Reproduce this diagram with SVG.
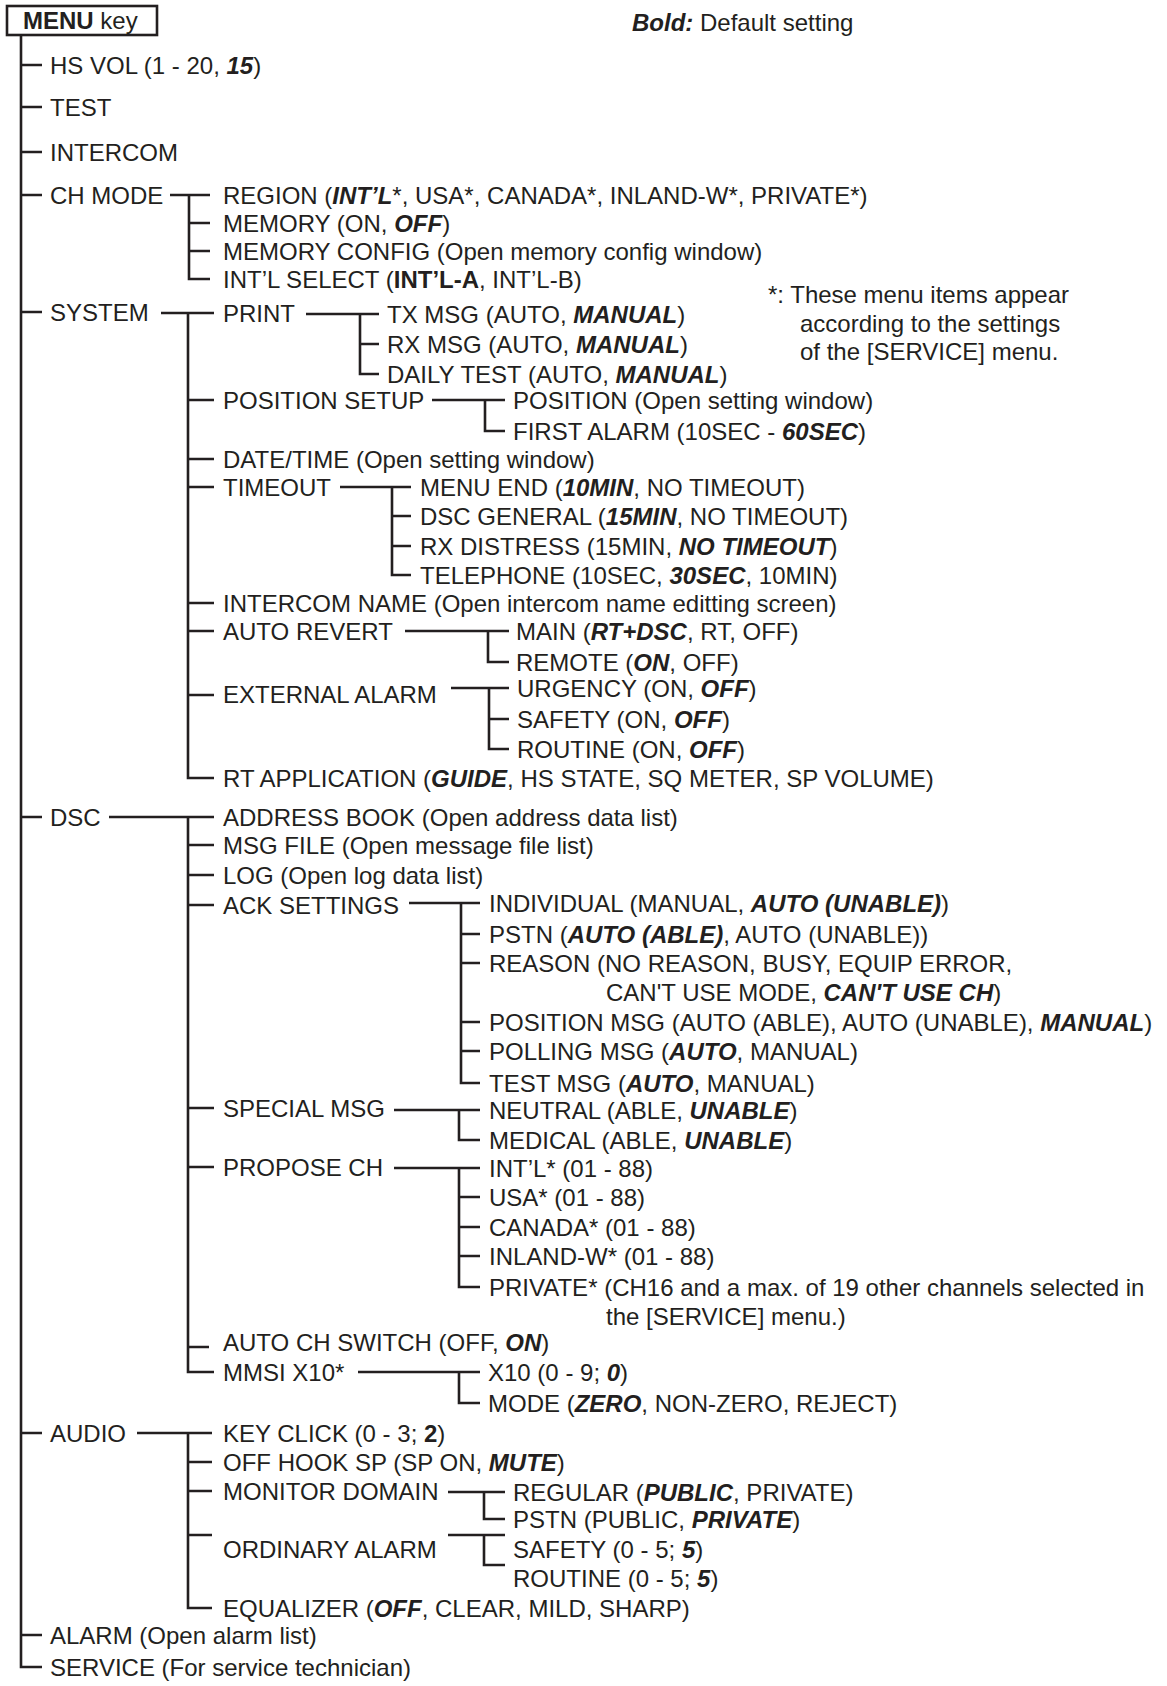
<svg xmlns="http://www.w3.org/2000/svg" width="1167" height="1686" viewBox="0 0 1167 1686">
<style>
.t{font-family:"Liberation Sans",Arial,Helvetica,sans-serif;font-size:24px;fill:#231f20}
.bi{font-weight:bold;font-style:italic}
.bo{font-weight:bold}
.ln{stroke:#231f20;stroke-width:2.6;fill:none}
</style>
<rect width="1167" height="1686" fill="#ffffff"/>
<g id="connectors" class="ln">
<path d="M21 35V1667H42M21 65H42M21 107H42M21 152H42M21 195H42M21 312H42M21 817H42M21 1433H42M21 1635H42"/>
<path d="M170 195H210M189 195V279H210M189 223H210M189 251H210"/>
<path d="M161 313H214M188 313V778H214M188 400H214M188 459H214M188 487H214M188 603H214M188 631H214M188 695H214"/>
<path d="M306 314H379M360 314V374H379M360 344H379"/>
<path d="M432 400H505M485 400V431H505"/>
<path d="M340 487H411M392 487V575H411M392 516H411M392 546H411"/>
<path d="M405 631H509M488 631V662H509"/>
<path d="M451 688H509M489 688V749H509M489 719H509"/>
<path d="M109 817H214M188 817V1372H214M188 845H214M188 875H214M188 905H214M188 1108H214M188 1167H214M188 1347H209"/>
<path d="M409 903H480M461 903V1083H480M461 934H480M461 963H480M461 1022H480M461 1051H480"/>
<path d="M394 1110H480M459 1110V1140H480"/>
<path d="M394 1168H480M459 1168V1287H480M459 1197H480M459 1227H480M459 1256H480"/>
<path d="M358 1372H480M459 1372V1403H480"/>
<path d="M137 1433H212M188 1433V1608H212M188 1462H212M188 1491H212M188 1535H212"/>
<path d="M448 1492H505M484 1492V1519H505"/>
<path d="M448 1535H505M484 1535V1565H505"/>
</g>
<g id="menu-key"><rect x="7" y="6" width="150" height="29" fill="none" stroke="#231f20" stroke-width="2.6"/><text class="t" x="23" y="29"><tspan class="bo">MENU</tspan> key</text></g>
<g id="legend"><text class="t" x="632" y="31"><tspan class="bi">Bold:</tspan> Default setting</text></g>
<g id="note"><text class="t" x="768" y="303">*: These menu items appear</text><text class="t" x="800" y="332">according to the settings</text><text class="t" x="800" y="360">of the [SERVICE] menu.</text></g>

<g id="hs-vol"><text class="t" x="50" y="74">HS VOL (1 - 20, <tspan class="bi">15</tspan>)</text></g>
<g id="test"><text class="t" x="50" y="116">TEST</text></g>
<g id="intercom"><text class="t" x="50" y="161">INTERCOM</text></g>
<g id="ch-mode"><text class="t" x="50" y="204">CH MODE</text></g>
<g id="region"><text class="t" x="223" y="204">REGION (<tspan class="bi">INT’L</tspan>*, USA*, CANADA*, INLAND-W*, PRIVATE*)</text></g>
<g id="memory"><text class="t" x="223" y="232">MEMORY (ON, <tspan class="bi">OFF</tspan>)</text></g>
<g id="memory-config"><text class="t" x="223" y="260">MEMORY CONFIG (Open memory config window)</text></g>
<g id="intl-select"><text class="t" x="223" y="288">INT’L SELECT (<tspan class="bo">INT’L-A</tspan>, INT’L-B)</text></g>

<g id="system"><text class="t" x="50" y="321">SYSTEM</text></g>
<g id="print"><text class="t" x="223" y="322">PRINT</text></g>
<g id="tx-msg"><text class="t" x="387" y="323">TX MSG (AUTO, <tspan class="bi">MANUAL</tspan>)</text></g>
<g id="rx-msg"><text class="t" x="387" y="353">RX MSG (AUTO, <tspan class="bi">MANUAL</tspan>)</text></g>
<g id="daily-test"><text class="t" x="387" y="383">DAILY TEST (AUTO, <tspan class="bi">MANUAL</tspan>)</text></g>
<g id="position-setup"><text class="t" x="223" y="409">POSITION SETUP</text></g>
<g id="position"><text class="t" x="513" y="409">POSITION (Open setting window)</text></g>
<g id="first-alarm"><text class="t" x="513" y="440">FIRST ALARM (10SEC - <tspan class="bi">60SEC</tspan>)</text></g>
<g id="date-time"><text class="t" x="223" y="468">DATE/TIME (Open setting window)</text></g>
<g id="timeout"><text class="t" x="223" y="496">TIMEOUT</text></g>
<g id="menu-end"><text class="t" x="420" y="496">MENU END (<tspan class="bi">10MIN</tspan>, NO TIMEOUT)</text></g>
<g id="dsc-general"><text class="t" x="420" y="525">DSC GENERAL (<tspan class="bi">15MIN</tspan>, NO TIMEOUT)</text></g>
<g id="rx-distress"><text class="t" x="420" y="555">RX DISTRESS (15MIN, <tspan class="bi">NO TIMEOUT</tspan>)</text></g>
<g id="telephone"><text class="t" x="420" y="584">TELEPHONE (10SEC, <tspan class="bi">30SEC</tspan>, 10MIN)</text></g>
<g id="intercom-name"><text class="t" x="223" y="612">INTERCOM NAME (Open intercom name editting screen)</text></g>
<g id="auto-revert"><text class="t" x="223" y="640">AUTO REVERT</text></g>
<g id="main"><text class="t" x="516" y="640">MAIN (<tspan class="bi">RT+DSC</tspan>, RT, OFF)</text></g>
<g id="remote"><text class="t" x="516" y="671">REMOTE (<tspan class="bi">ON</tspan>, OFF)</text></g>
<g id="external-alarm"><text class="t" x="223" y="703">EXTERNAL ALARM</text></g>
<g id="urgency"><text class="t" x="517" y="697">URGENCY (ON, <tspan class="bi">OFF</tspan>)</text></g>
<g id="safety-ext"><text class="t" x="517" y="728">SAFETY (ON, <tspan class="bi">OFF</tspan>)</text></g>
<g id="routine-ext"><text class="t" x="517" y="758">ROUTINE (ON, <tspan class="bi">OFF</tspan>)</text></g>
<g id="rt-application"><text class="t" x="223" y="787">RT APPLICATION (<tspan class="bi">GUIDE</tspan>, HS STATE, SQ METER, SP VOLUME)</text></g>

<g id="dsc"><text class="t" x="50" y="826">DSC</text></g>
<g id="address-book"><text class="t" x="223" y="826">ADDRESS BOOK (Open address data list)</text></g>
<g id="msg-file"><text class="t" x="223" y="854">MSG FILE (Open message file list)</text></g>
<g id="log"><text class="t" x="223" y="884">LOG (Open log data list)</text></g>
<g id="ack-settings"><text class="t" x="223" y="914">ACK SETTINGS</text></g>
<g id="individual"><text class="t" x="489" y="912">INDIVIDUAL (MANUAL, <tspan class="bi">AUTO (UNABLE)</tspan>)</text></g>
<g id="pstn-ack"><text class="t" x="489" y="943">PSTN (<tspan class="bi">AUTO (ABLE)</tspan>, AUTO (UNABLE))</text></g>
<g id="reason"><text class="t" x="489" y="972">REASON (NO REASON, BUSY, EQUIP ERROR,</text><text class="t" x="606" y="1001">CAN'T USE MODE, <tspan class="bi">CAN'T USE CH</tspan>)</text></g>
<g id="position-msg"><text class="t" x="489" y="1031">POSITION MSG (AUTO (ABLE), AUTO (UNABLE), <tspan class="bi">MANUAL</tspan>)</text></g>
<g id="polling-msg"><text class="t" x="489" y="1060">POLLING MSG (<tspan class="bi">AUTO</tspan>, MANUAL)</text></g>
<g id="test-msg"><text class="t" x="489" y="1092">TEST MSG (<tspan class="bi">AUTO</tspan>, MANUAL)</text></g>
<g id="special-msg"><text class="t" x="223" y="1117">SPECIAL MSG</text></g>
<g id="neutral"><text class="t" x="489" y="1119">NEUTRAL (ABLE, <tspan class="bi">UNABLE</tspan>)</text></g>
<g id="medical"><text class="t" x="489" y="1149">MEDICAL (ABLE, <tspan class="bi">UNABLE</tspan>)</text></g>
<g id="propose-ch"><text class="t" x="223" y="1176">PROPOSE CH</text></g>
<g id="intl-ch"><text class="t" x="489" y="1177">INT’L* (01 - 88)</text></g>
<g id="usa-ch"><text class="t" x="489" y="1206">USA* (01 - 88)</text></g>
<g id="canada-ch"><text class="t" x="489" y="1236">CANADA* (01 - 88)</text></g>
<g id="inland-ch"><text class="t" x="489" y="1265">INLAND-W* (01 - 88)</text></g>
<g id="private-ch"><text class="t" x="489" y="1296">PRIVATE* (CH16 and a max. of 19 other channels selected in</text><text class="t" x="606" y="1325">the [SERVICE] menu.)</text></g>
<g id="auto-ch-switch"><text class="t" x="223" y="1351">AUTO CH SWITCH (OFF, <tspan class="bi">ON</tspan>)</text></g>
<g id="mmsi-x10"><text class="t" x="223" y="1381">MMSI X10*</text></g>
<g id="x10"><text class="t" x="488" y="1381">X10 (0 - 9; <tspan class="bi">0</tspan>)</text></g>
<g id="mode"><text class="t" x="488" y="1412">MODE (<tspan class="bi">ZERO</tspan>, NON-ZERO, REJECT)</text></g>

<g id="audio"><text class="t" x="50" y="1442">AUDIO</text></g>
<g id="key-click"><text class="t" x="223" y="1442">KEY CLICK (0 - 3; <tspan class="bo">2</tspan>)</text></g>
<g id="off-hook-sp"><text class="t" x="223" y="1471">OFF HOOK SP (SP ON, <tspan class="bi">MUTE</tspan>)</text></g>
<g id="monitor-domain"><text class="t" x="223" y="1500">MONITOR DOMAIN</text></g>
<g id="regular"><text class="t" x="513" y="1501">REGULAR (<tspan class="bi">PUBLIC</tspan>, PRIVATE)</text></g>
<g id="pstn-audio"><text class="t" x="513" y="1528">PSTN (PUBLIC, <tspan class="bi">PRIVATE</tspan>)</text></g>
<g id="ordinary-alarm"><text class="t" x="223" y="1558">ORDINARY ALARM</text></g>
<g id="safety-audio"><text class="t" x="513" y="1558">SAFETY (0 - 5; <tspan class="bi">5</tspan>)</text></g>
<g id="routine-audio"><text class="t" x="513" y="1587">ROUTINE (0 - 5; <tspan class="bi">5</tspan>)</text></g>
<g id="equalizer"><text class="t" x="223" y="1617">EQUALIZER (<tspan class="bi">OFF</tspan>, CLEAR, MILD, SHARP)</text></g>
<g id="alarm"><text class="t" x="50" y="1644">ALARM (Open alarm list)</text></g>
<g id="service"><text class="t" x="50" y="1676">SERVICE (For service technician)</text></g>
</svg>
